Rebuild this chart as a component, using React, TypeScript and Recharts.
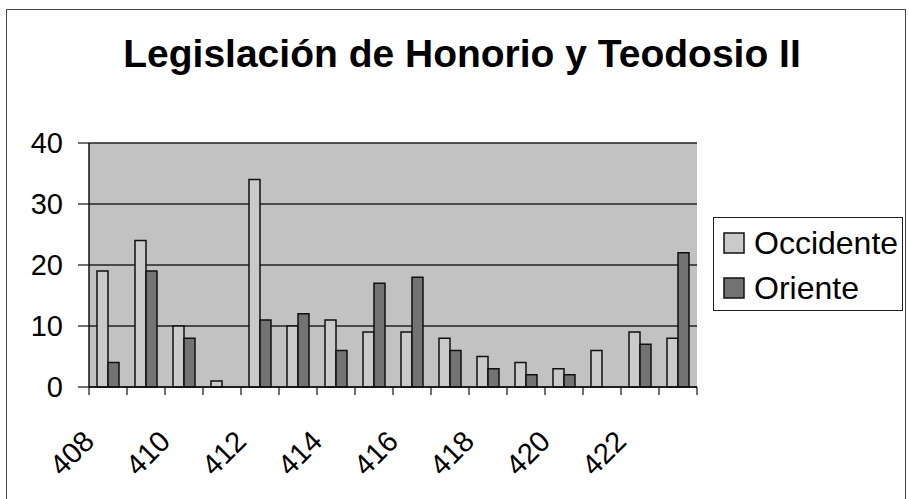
import { BarChart, Bar, XAxis, YAxis, CartesianGrid } from 'recharts';

const years = ['408', '409', '410', '411', '412', '413', '414', '415', '416', '417', '418', '419', '420', '421', '422', '423'];
const occidente = [19, 24, 10, 1, 34, 10, 11, 9, 9, 8, 5, 4, 3, 6, 9, 8];
const oriente = [4, 19, 8, 0, 11, 12, 6, 17, 18, 6, 3, 2, 2, 0, 7, 22];
const yTicks = [0, 10, 20, 30, 40];

const W = 909;
const H = 499;
const margin = { top: 143, right: 212, bottom: 0, left: 0 };
const Y_AXIS_W = 89;
const X_AXIS_H = 112;
const BAND = (W - margin.left - margin.right - Y_AXIS_W) / years.length;
const FONT = 'Arial, "Liberation Sans", Helvetica, sans-serif';

const PLOT_BG = '#c2c2c2';
const OCC_FILL = '#cacaca';
const ORI_FILL = '#737373';

const data = years.map((year, i) => ({ year, Occidente: occidente[i], Oriente: oriente[i] }));

// ticks sit on category boundaries like the old Excel charts, labels only every other year
const XTick = (props: any) => {
  const { x, y, payload } = props;
  const idx = payload.index ?? props.index;
  const left = x - BAND / 2;
  const last = idx === years.length - 1;
  const tx = x - 12;
  const ty = y + 56;
  return (
    <g>
      <line x1={left} y1={y} x2={left} y2={y + 8} stroke="#111" strokeWidth={1.2} />
      {last && <line x1={x + BAND / 2} y1={y} x2={x + BAND / 2} y2={y + 8} stroke="#111" strokeWidth={1.2} />}
      {idx % 2 === 0 && (
        <text x={tx} y={ty} textAnchor="end" fontSize={29} fontFamily={FONT} fill="#000"
          transform={`rotate(-45, ${tx}, ${ty})`}>
          {payload.value}
        </text>
      )}
    </g>
  );
};

export default function App() {
  return (
    <div style={{ position: 'absolute', left: 0, top: 0, width: W, height: H, background: '#fff', overflow: 'hidden' }}>
      <div style={{ position: 'absolute', left: 6, top: 9, width: 900, height: 500, border: '1.5px solid #444', boxSizing: 'border-box' }} />
      <div style={{
        position: 'absolute', left: 0, top: 32, width: 924, textAlign: 'center',
        fontFamily: FONT, fontWeight: 'bold', fontSize: 39, color: '#000', whiteSpace: 'nowrap'
      }}>
        Legislación de Honorio y Teodosio II
      </div>

      <div style={{ position: 'absolute', left: 0, top: 0 }}>
        <BarChart width={W} height={H} data={data} margin={margin} barGap={0} barSize={11}>
          <CartesianGrid vertical={false} stroke="#222" strokeWidth={1.5} fill={PLOT_BG} fillOpacity={1} />
          <XAxis dataKey="year" interval={0} height={X_AXIS_H} tickLine={false} tickSize={0} tickMargin={0}
            axisLine={{ stroke: '#111', strokeWidth: 1.5 }} tick={<XTick />} />
          <YAxis width={Y_AXIS_W} domain={[0, 40]} ticks={yTicks} interval={0} tickSize={11} tickMargin={15}
            axisLine={{ stroke: '#111', strokeWidth: 1.5 }} tickLine={{ stroke: '#111', strokeWidth: 1.2 }}
            tick={{ fontSize: 29, fontFamily: FONT, fill: '#000' }} />
          <Bar dataKey="Occidente" fill={OCC_FILL} stroke="#111" strokeWidth={1.5} isAnimationActive={false} />
          <Bar dataKey="Oriente" fill={ORI_FILL} stroke="#111" strokeWidth={1.5} isAnimationActive={false} />
        </BarChart>
      </div>

      <div style={{
        position: 'absolute', left: 713, top: 217, width: 190, height: 94, border: '1.5px solid #222',
        boxSizing: 'border-box', fontFamily: FONT, fontSize: 32, color: '#000'
      }}>
        {[{ name: 'Occidente', fill: OCC_FILL }, { name: 'Oriente', fill: ORI_FILL }].map((item, i) => (
          <div key={item.name} style={{ position: 'absolute', left: 9, top: 6 + i * 45, height: 38, display: 'flex', alignItems: 'center', whiteSpace: 'nowrap' }}>
            <svg width={22} height={22} style={{ marginRight: 9 }}>
              <rect x={1} y={1} width={20} height={20} fill={item.fill} stroke="#111" strokeWidth={1.5} />
            </svg>
            <span>{item.name}</span>
          </div>
        ))}
      </div>
    </div>
  );
}
